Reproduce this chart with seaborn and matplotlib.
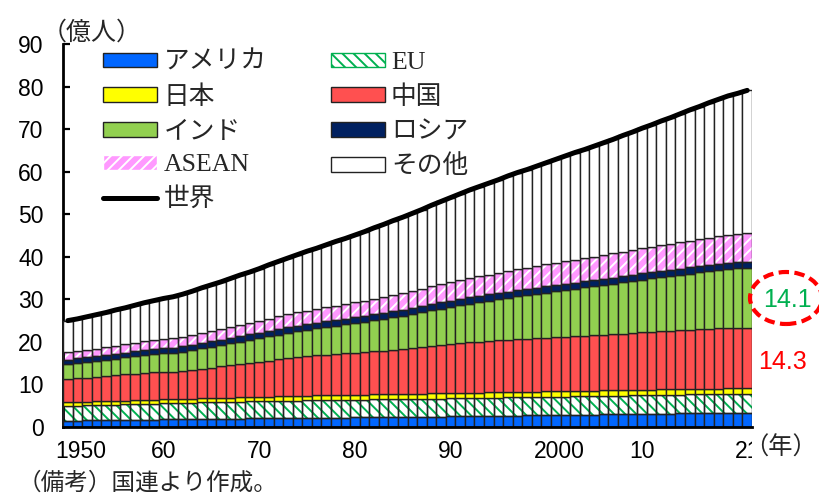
import matplotlib
matplotlib.use("Agg")
import matplotlib.pyplot as plt
import seaborn as sns
import numpy as np
from matplotlib.patches import Patch, Ellipse, Rectangle
from matplotlib.lines import Line2D

# Population by region, 1950-2021 (unit: 100 million people)
years = list(range(1950, 2022))

world = [25.0, 25.4, 25.9, 26.4, 26.9, 27.5, 28.0, 28.6, 29.2, 29.7,
         30.2, 30.6, 31.2, 31.9, 32.7, 33.4, 34.1, 34.9, 35.7, 36.4,
         37.2, 38.1, 38.9, 39.7, 40.5, 41.3, 42.0, 42.8, 43.6, 44.3,
         45.1, 45.9, 46.8, 47.6, 48.5, 49.3, 50.2, 51.1, 52.1, 53.0,
         53.9, 54.8, 55.7, 56.5, 57.3, 58.1, 59.0, 59.8, 60.5, 61.3,
         62.1, 62.9, 63.7, 64.5, 65.2, 66.0, 66.8, 67.6, 68.5, 69.3,
         70.2, 71.0, 71.9, 72.7, 73.6, 74.5, 75.3, 76.2, 77.0, 77.8,
         78.4, 79.1]

usa = [1.48, 1.51, 1.54, 1.57, 1.60, 1.63, 1.66, 1.69, 1.72, 1.75,
       1.78, 1.81, 1.84, 1.87, 1.90, 1.93, 1.95, 1.97, 1.99, 2.01,
       2.03, 2.06, 2.08, 2.10, 2.12, 2.14, 2.16, 2.18, 2.20, 2.23,
       2.25, 2.27, 2.29, 2.31, 2.34, 2.36, 2.38, 2.40, 2.42, 2.44,
       2.47, 2.50, 2.53, 2.56, 2.59, 2.62, 2.65, 2.68, 2.71, 2.74,
       2.77, 2.80, 2.83, 2.86, 2.89, 2.92, 2.95, 2.98, 3.01, 3.04,
       3.09, 3.12, 3.14, 3.17, 3.19, 3.21, 3.24, 3.26, 3.29, 3.32,
       3.35, 3.37]

eu = [3.50, 3.53, 3.55, 3.58, 3.60, 3.62, 3.65, 3.67, 3.70, 3.72,
      3.75, 3.78, 3.81, 3.84, 3.87, 3.90, 3.93, 3.95, 3.97, 3.99,
      4.01, 4.03, 4.05, 4.07, 4.09, 4.10, 4.12, 4.13, 4.14, 4.15,
      4.16, 4.17, 4.18, 4.19, 4.20, 4.21, 4.22, 4.23, 4.24, 4.25,
      4.26, 4.27, 4.28, 4.29, 4.30, 4.30, 4.31, 4.31, 4.31, 4.31,
      4.32, 4.32, 4.33, 4.34, 4.35, 4.36, 4.37, 4.38, 4.39, 4.40,
      4.40, 4.41, 4.41, 4.42, 4.42, 4.43, 4.44, 4.45, 4.46, 4.47,
      4.47, 4.47]

japan = [0.84, 0.85, 0.87, 0.88, 0.89, 0.90, 0.91, 0.92, 0.93, 0.94,
         0.94, 0.95, 0.96, 0.97, 0.98, 0.99, 1.00, 1.01, 1.02, 1.04,
         1.05, 1.06, 1.08, 1.09, 1.11, 1.12, 1.13, 1.14, 1.15, 1.16,
         1.17, 1.18, 1.19, 1.19, 1.20, 1.21, 1.22, 1.22, 1.23, 1.23,
         1.24, 1.24, 1.25, 1.25, 1.25, 1.25, 1.26, 1.26, 1.26, 1.27,
         1.27, 1.27, 1.27, 1.27, 1.28, 1.28, 1.28, 1.28, 1.28, 1.28,
         1.28, 1.28, 1.28, 1.27, 1.27, 1.27, 1.27, 1.27, 1.26, 1.26,
         1.25, 1.25]

china = [5.44, 5.53, 5.63, 5.75, 5.87, 6.00, 6.13, 6.27, 6.41, 6.54,
         6.54, 6.46, 6.54, 6.77, 6.97, 7.15, 7.36, 7.56, 7.77, 8.00,
         8.22, 8.45, 8.67, 8.88, 9.08, 9.26, 9.40, 9.53, 9.65, 9.74,
         9.82, 9.95, 10.10, 10.25, 10.41, 10.59, 10.77, 10.96, 11.16, 11.35,
         11.53, 11.68, 11.82, 11.96, 12.08, 12.20, 12.31, 12.41, 12.49, 12.57,
         12.64, 12.71, 12.79, 12.86, 12.93, 13.00, 13.08, 13.17, 13.27, 13.37,
         13.48, 13.58, 13.68, 13.77, 13.86, 13.94, 14.03, 14.11, 14.18, 14.22,
         14.25, 14.26]

india = [3.57, 3.64, 3.71, 3.78, 3.85, 3.93, 4.01, 4.09, 4.18, 4.27,
         4.36, 4.46, 4.56, 4.67, 4.78, 4.90, 5.02, 5.15, 5.29, 5.43,
         5.57, 5.70, 5.83, 5.96, 6.09, 6.23, 6.37, 6.51, 6.66, 6.81,
         6.97, 7.13, 7.30, 7.47, 7.64, 7.81, 7.99, 8.17, 8.35, 8.53,
         8.71, 8.90, 9.08, 9.27, 9.45, 9.64, 9.83, 10.02, 10.21, 10.40,
         10.59, 10.78, 10.97, 11.16, 11.35, 11.54, 11.72, 11.89, 12.06, 12.23,
         12.40, 12.57, 12.74, 12.90, 13.06, 13.22, 13.38, 13.54, 13.69, 13.83,
         13.96, 14.08]

russia = [1.03, 1.05, 1.07, 1.09, 1.11, 1.12, 1.14, 1.16, 1.18, 1.19,
          1.20, 1.22, 1.23, 1.24, 1.25, 1.26, 1.27, 1.28, 1.28, 1.29,
          1.30, 1.31, 1.32, 1.32, 1.33, 1.34, 1.35, 1.36, 1.37, 1.38,
          1.38, 1.39, 1.40, 1.41, 1.42, 1.43, 1.44, 1.45, 1.46, 1.47,
          1.48, 1.48, 1.48, 1.48, 1.48, 1.48, 1.48, 1.47, 1.47, 1.47,
          1.47, 1.46, 1.46, 1.45, 1.44, 1.44, 1.43, 1.43, 1.43, 1.43,
          1.43, 1.43, 1.44, 1.44, 1.44, 1.45, 1.45, 1.46, 1.46, 1.46,
          1.46, 1.45]

asean = [1.65, 1.69, 1.73, 1.77, 1.82, 1.87, 1.92, 1.97, 2.02, 2.08,
         2.14, 2.20, 2.26, 2.32, 2.38, 2.45, 2.52, 2.59, 2.66, 2.73,
         2.80, 2.88, 2.95, 3.02, 3.10, 3.17, 3.24, 3.31, 3.38, 3.45,
         3.53, 3.61, 3.69, 3.77, 3.85, 3.93, 4.01, 4.10, 4.18, 4.26,
         4.35, 4.43, 4.51, 4.59, 4.67, 4.75, 4.83, 4.91, 4.99, 5.07,
         5.15, 5.23, 5.30, 5.38, 5.45, 5.52, 5.59, 5.66, 5.73, 5.80,
         5.87, 5.94, 6.01, 6.08, 6.15, 6.22, 6.29, 6.36, 6.43, 6.49,
         6.56, 6.62]

tick_labels = ["1950", "60", "70", "80", "90", "2000", "10", "21"]
tick_years = [1950, 1960, 1970, 1980, 1990, 2000, 2010, 2021]

label_india = "14.1"
label_china = "14.3"

sns.set_style("white")
plt.rcParams["font.family"] = ["Liberation Sans", "Noto Sans CJK JP"]
plt.rcParams["hatch.linewidth"] = 1.4

x = np.array(years, dtype=float)
regions = np.array([usa, eu, japan, china, india, russia, asean])
other = np.array(world) - regions.sum(axis=0)

EU_HATCH = "\\\\\\"
ASEAN_HATCH = "///"

# (values, face colour, hatch, hatch colour)
layers = [
    (usa, "#0066FF", None, None),
    (eu, "white", EU_HATCH, "#00B050"),
    (japan, "#FFFF00", None, None),
    (china, "#FF5050", None, None),
    (india, "#92D050", None, None),
    (russia, "#002060", None, None),
    (asean, "#FF99FF", ASEAN_HATCH, "white"),
    (other, "white", None, None),
]

fig = plt.figure(figsize=(8.2, 4.94), dpi=100)
ax = fig.add_axes([63 / 820, 67 / 494, 689 / 820, 383 / 494])

bottom = np.zeros(len(years))
for vals, fc, hatch, hc in layers:
    vals = np.asarray(vals, dtype=float)
    if hatch:
        ax.bar(x, vals, bottom=bottom, width=1.0, color=fc, hatch=hatch,
               edgecolor=hc, linewidth=0, zorder=2)
        ax.bar(x, vals, bottom=bottom, width=1.0, fill=False,
               edgecolor="#222222", linewidth=1.0, zorder=3)
    else:
        ax.bar(x, vals, bottom=bottom, width=1.0, color=fc,
               edgecolor="#222222", linewidth=1.0, zorder=3)
    bottom += vals

sns.lineplot(x=x, y=world, color="black", linewidth=3.6, ax=ax,
             solid_capstyle="round", zorder=5)

ax.set_xlim(1949.5, 2021.5)
ax.set_ylim(0, 90)
ax.set_yticks(range(0, 91, 10))
ax.tick_params(axis="y", direction="in", length=5, width=1.6, left=True,
               labelsize=16.5, pad=14, colors="black")
# four-digit year labels sit a little to the right of their bars
label_pos = [t + (1.35 if len(lbl) == 4 else 0) for t, lbl in zip(tick_years, tick_labels)]
ax.set_xticks(label_pos)
ax.set_xticklabels(tick_labels)
ax.tick_params(axis="x", length=0, labelsize=16.5, pad=9, colors="black")
for s in ["top", "right"]:
    ax.spines[s].set_visible(False)
for s in ["left", "bottom"]:
    ax.spines[s].set_color("black")
    ax.spines[s].set_linewidth(2.0)
ax.spines["bottom"].set_zorder(6)
ax.set_xlabel("")
ax.set_ylabel("")
ax.grid(False)

# legend: two columns
handles = [
    Patch(facecolor="#0066FF", edgecolor="#222222"),
    Patch(facecolor="#FFFF00", edgecolor="#222222"),
    Patch(facecolor="#92D050", edgecolor="#222222"),
    Patch(facecolor="#FF99FF", edgecolor="white", hatch=ASEAN_HATCH),
    Line2D([0], [0], color="black", linewidth=3.6, solid_capstyle="round"),
    Patch(facecolor="white", edgecolor="#00B050", hatch=EU_HATCH),
    Patch(facecolor="#FF5050", edgecolor="#222222"),
    Patch(facecolor="#002060", edgecolor="#222222"),
    Patch(facecolor="white", edgecolor="#222222"),
]
labels = ["アメリカ", "日本", "インド", "ASEAN", "世界",
          "EU", "中国", "ロシア", "その他"]
leg = ax.legend(handles, labels, ncol=2, loc="upper left",
                bbox_to_anchor=(103 / 820, 1 - 50 / 494),
                bbox_transform=fig.transFigure, frameon=False,
                fontsize=18.5, handlelength=2.1, handleheight=0.5,
                handletextpad=0.25, labelspacing=0.42, columnspacing=2.5,
                borderpad=0, borderaxespad=0)
for t in leg.get_texts():
    if t.get_text() in ("ASEAN", "EU"):
        t.set_fontfamily("Liberation Serif")

# unit labels and note
fig.text(42 / 820, 1 - 33 / 494, "（億人）", fontsize=18, va="center", ha="left")
fig.add_artist(Rectangle((752 / 820, 1 - 462 / 494), 68 / 820, 28 / 494,
                         transform=fig.transFigure, facecolor="white",
                         edgecolor="none", zorder=1))
fig.text(744 / 820, 1 - 448 / 494, "（年）", fontsize=17.5, va="center", ha="left",
         zorder=4)
fig.text(18 / 820, 1 - 483 / 494, "（備考）国連より作成。", fontsize=17,
         va="center", ha="left")

# 2021 values for India and China
fig.text(787 / 820, 1 - 300 / 494, label_india, color="#00B050", fontsize=18,
         ha="center", va="center")
fig.text(783 / 820, 1 - 362 / 494, label_china, color="#FF0000", fontsize=18,
         ha="center", va="center")
fig.add_artist(Ellipse((786 / 820, 1 - 298 / 494), 72 / 820, 52 / 494,
                       transform=fig.transFigure, fill=False,
                       edgecolor="#FF0000", linewidth=3.0,
                       linestyle=(0, (2.5, 1.3))))

fig.savefig("out.png", dpi=100)
